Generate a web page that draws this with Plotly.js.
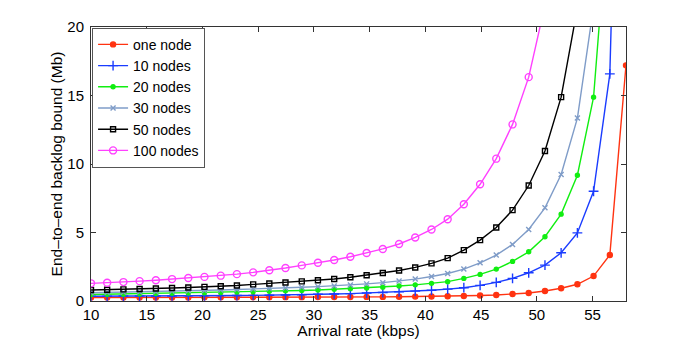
<!DOCTYPE html>
<html>
<head>
<meta charset="utf-8">
<script src="https://cdn.plot.ly/plotly-3.0.1.min.js"></script>
<style>
  html, body { margin: 0; padding: 0; background: #fff; }
  #plot { width: 692px; height: 339px; }
</style>
</head>
<body>
<div id="plot"></div>
<script>
// arrival rate (kbps)
var rate = [10, 11.45, 12.91, 14.36, 15.82, 17.27, 18.73, 20.18, 21.64, 23.09, 24.55,
  26, 27.45, 28.91, 30.36, 31.82, 33.27, 34.73, 36.18, 37.64, 39.09, 40.55,
  42, 43.45, 44.91, 46.36, 47.82, 49.27, 50.73, 52.18, 53.64, 55.09, 56.55, 58];

// end-to-end backlog bound (Mb)
var oneNode = [0.25, 0.25, 0.25, 0.26, 0.26, 0.26, 0.26, 0.27, 0.27, 0.27, 0.27,
  0.28, 0.28, 0.28, 0.29, 0.29, 0.29, 0.30, 0.30, 0.31, 0.32, 0.33,
  0.35, 0.37, 0.40, 0.44, 0.51, 0.58, 0.73, 0.93, 1.22, 1.82, 3.36, 17.2];
var nodes10 = [0.35, 0.35, 0.36, 0.36, 0.37, 0.37, 0.38, 0.38, 0.39, 0.40, 0.41,
  0.42, 0.44, 0.46, 0.49, 0.51, 0.54, 0.58, 0.62, 0.67, 0.72, 0.79,
  0.87, 0.97, 1.14, 1.36, 1.65, 2.06, 2.62, 3.52, 4.97, 8.01, 16.58, 60];
var nodes20 = [0.47, 0.49, 0.50, 0.52, 0.54, 0.56, 0.58, 0.60, 0.62, 0.65, 0.68,
  0.71, 0.74, 0.77, 0.80, 0.85, 0.90, 0.95, 1.01, 1.09, 1.18, 1.29,
  1.41, 1.65, 1.94, 2.33, 2.89, 3.59, 4.69, 6.34, 9.18, 14.88, 30];
var nodes30 = [0.60, 0.62, 0.64, 0.66, 0.68, 0.71, 0.74, 0.77, 0.80, 0.84, 0.87,
  0.91, 0.95, 1.00, 1.05, 1.10, 1.17, 1.25, 1.34, 1.46, 1.60, 1.79,
  2.01, 2.33, 2.79, 3.35, 4.13, 5.22, 6.80, 9.23, 13.35, 21.5];
var nodes50 = [0.80, 0.82, 0.85, 0.88, 0.91, 0.95, 0.99, 1.03, 1.08, 1.13, 1.21,
  1.28, 1.35, 1.43, 1.52, 1.61, 1.73, 1.88, 2.04, 2.23, 2.45, 2.75,
  3.13, 3.71, 4.44, 5.37, 6.63, 8.43, 10.95, 14.88, 21.4];
var nodes100 = [1.29, 1.33, 1.38, 1.45, 1.52, 1.60, 1.68, 1.76, 1.85, 1.96, 2.09,
  2.24, 2.41, 2.60, 2.79, 2.99, 3.23, 3.50, 3.80, 4.16, 4.64, 5.22,
  5.97, 7.06, 8.52, 10.39, 12.89, 16.34, 21.6];

var names = ["one node", "10 nodes", "20 nodes", "30 nodes", "50 nodes", "100 nodes"];
var series = [oneNode, nodes10, nodes20, nodes30, nodes50, nodes100];
var colors = ["#ff3311", "#1a3cff", "#11ee11", "#7f9cc8", "#000000", "#ff40ff"];
var symbols = ["circle", "cross-thin", "circle", "x-thin", "square-open", "circle-open"];
var sizes = [5, 7, 4, 5, 5, 7];

var data = [];
for (var i = 0; i < series.length; i++) {
  data.push({
    x: rate.slice(0, series[i].length),
    y: series[i],
    name: names[i],
    type: "scatter",
    mode: "lines+markers",
    line: {color: colors[i], width: 1.4},
    marker: {
      symbol: symbols[i],
      size: sizes[i],
      color: colors[i],
      line: {color: colors[i], width: 1.4}
    }
  });
}

var fam = "Liberation Sans, Arial, sans-serif";

var layout = {
  width: 692,
  height: 339,
  margin: {l: 91, r: 66, t: 27, b: 38},
  paper_bgcolor: "#fff",
  plot_bgcolor: "#fff",
  showlegend: true,
  legend: {
    x: 0.002, y: 0.997, xanchor: "left", yanchor: "top",
    bgcolor: "#fff", bordercolor: "#555", borderwidth: 1,
    font: {family: fam, size: 14, color: "#000"},
    tracegroupgap: 0
  },
  xaxis: {
    range: [10, 58],
    tickvals: [10, 15, 20, 25, 30, 35, 40, 45, 50, 55],
    ticks: "inside", ticklen: 5, tickcolor: "#333",
    showline: true, linecolor: "#333", linewidth: 1, mirror: "allticks",
    showgrid: false, zeroline: false,
    tickfont: {family: fam, size: 15, color: "#000"},
    ticklabelstandoff: 0,
    title: {text: "Arrival rate (kbps)", font: {family: fam, size: 15.5, color: "#000"}, standoff: 0}
  },
  yaxis: {
    range: [0, 20],
    tickvals: [0, 5, 10, 15, 20],
    ticks: "inside", ticklen: 5, tickcolor: "#333",
    showline: true, linecolor: "#333", linewidth: 1, mirror: "allticks",
    showgrid: false, zeroline: false,
    tickfont: {family: fam, size: 15, color: "#000"},
    ticklabelstandoff: 3,
    title: {text: "End\u2013to\u2013end backlog bound (Mb)", font: {family: fam, size: 15.5, color: "#000"}, standoff: 0}
  }
};

Plotly.newPlot("plot", data, layout, {displayModeBar: false, staticPlot: true});
</script>
</body>
</html>
